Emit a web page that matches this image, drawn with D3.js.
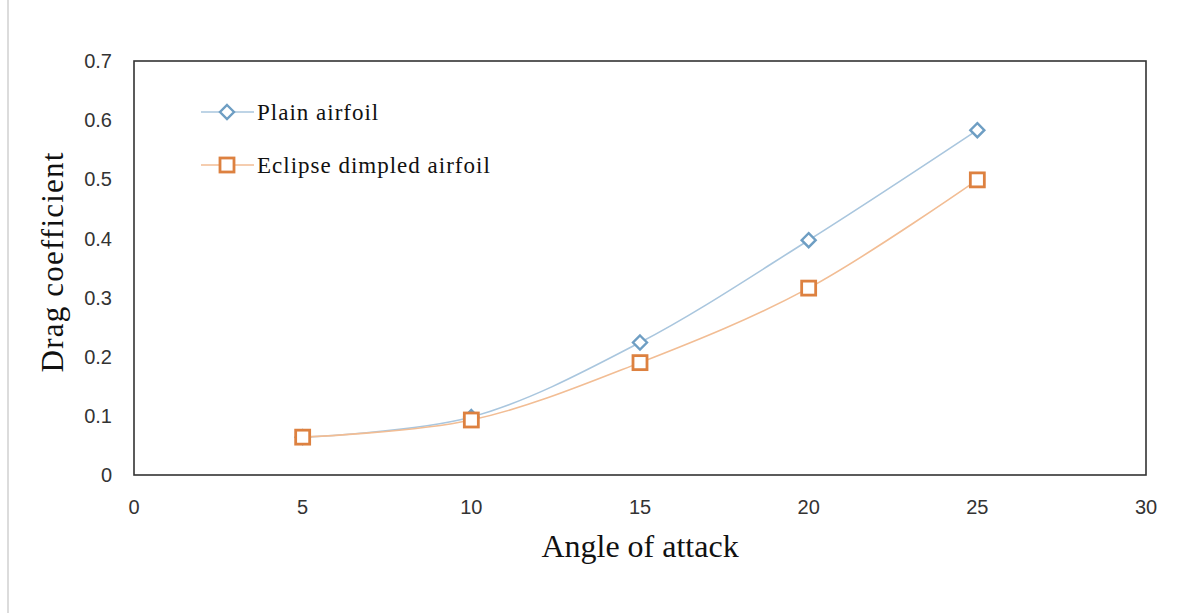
<!DOCTYPE html>
<html><head><meta charset="utf-8">
<script src="https://cdn.jsdelivr.net/npm/d3@7"></script>
<style>body{margin:0;background:#fff}svg{display:block}</style>
</head><body>
<svg id="c" width="1178" height="613"></svg>
<script>
const angles = [5, 10, 15, 20, 25];
const plainAirfoil = [0.064, 0.098, 0.224, 0.397, 0.583];
const eclipseDimpled = [0.064, 0.093, 0.190, 0.316, 0.499];
const xTicks = [0, 5, 10, 15, 20, 25, 30];
const yTicks = [0, 0.1, 0.2, 0.3, 0.4, 0.5, 0.6, 0.7];
const seriesNames = ["Plain airfoil", "Eclipse dimpled airfoil"];

const svg = d3.select("#c");
const L = 134, R = 1146, T = 61, B = 475;
const x = d3.scaleLinear().domain([0, 30]).range([L, R]);
const y = d3.scaleLinear().domain([0, 0.7]).range([B, T]);

svg.append("line").attr("x1", 8).attr("x2", 8).attr("y1", 0).attr("y2", 613)
  .attr("stroke", "#dcdcdc").attr("stroke-width", 2);

svg.append("rect").attr("x", L).attr("y", T).attr("width", R - L).attr("height", B - T)
  .attr("fill", "none").attr("stroke", "#333").attr("stroke-width", 1.6);

const tickFont = "'Liberation Sans', Arial, sans-serif";
const serif = "'Liberation Serif', 'Times New Roman', serif";
svg.append("g").selectAll("text").data(yTicks).join("text")
  .attr("x", 112).attr("y", d => y(d)).attr("dy", "0.36em").attr("text-anchor", "end")
  .attr("font-family", tickFont).attr("font-size", 20).attr("fill", "#333")
  .text(d => d3.format("")(d));
svg.append("g").selectAll("text").data(xTicks).join("text")
  .attr("x", d => x(d)).attr("y", 507).attr("dy", "0.36em").attr("text-anchor", "middle")
  .attr("font-family", tickFont).attr("font-size", 20).attr("fill", "#333")
  .text(d => d);

svg.append("text").attr("x", 640).attr("y", 557).attr("text-anchor", "middle")
  .attr("font-family", serif).attr("font-size", 32).attr("fill", "#111")
  .text("Angle of attack");
svg.append("text").attr("transform", "translate(63,262) rotate(-90)").attr("text-anchor", "middle")
  .attr("font-family", serif).attr("font-size", 31).attr("letter-spacing", 1.2).attr("fill", "#111")
  .text("Drag coefficient");

const series = [
  {name: seriesNames[0], vals: plainAirfoil, line: "#a9c6de", mark: "#6e9ec3", shape: "diamond"},
  {name: seriesNames[1], vals: eclipseDimpled, line: "#f2bd94", mark: "#dd8140", shape: "square"}
];
const lineGen = d3.line().x(d => x(d[0])).y(d => y(d[1])).curve(d3.curveCatmullRom.alpha(0.5));

function marker(g, cx, cy, s) {
  if (s.shape === "diamond") {
    g.append("path").attr("d", `M${cx},${cy-7} L${cx+7},${cy} L${cx},${cy+7} L${cx-7},${cy} Z`)
      .attr("fill", "#fff").attr("stroke", s.mark).attr("stroke-width", 2.4);
  } else {
    g.append("rect").attr("x", cx - 7).attr("y", cy - 7).attr("width", 14).attr("height", 14)
      .attr("fill", "#fff").attr("stroke", s.mark).attr("stroke-width", 2.8);
  }
}

series.forEach(s => {
  const pts = angles.map((a, i) => [a, s.vals[i]]);
  svg.append("path").attr("d", lineGen(pts)).attr("fill", "none").attr("stroke", s.line).attr("stroke-width", 1.6);
});
series.forEach(s => {
  const g = svg.append("g");
  angles.forEach((a, i) => marker(g, x(a), y(s.vals[i]), s));
});

const legY = [112, 165];
series.forEach((s, i) => {
  const g = svg.append("g");
  g.append("line").attr("x1", 201).attr("x2", 254).attr("y1", legY[i]).attr("y2", legY[i])
    .attr("stroke", s.line).attr("stroke-width", 1.6);
  marker(g, 227, legY[i], s);
  g.append("text").attr("x", 257).attr("y", legY[i] + 8)
    .attr("font-family", serif).attr("font-size", 23).attr("letter-spacing", 1).attr("fill", "#111")
    .text(s.name);
});
</script>
</body></html>
